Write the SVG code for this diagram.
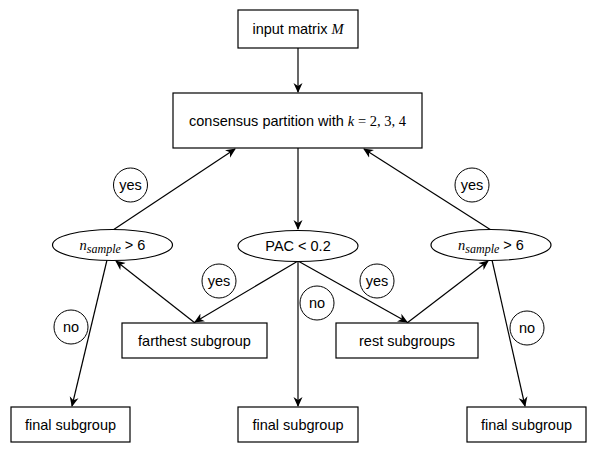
<svg xmlns="http://www.w3.org/2000/svg" width="598" height="454" viewBox="0 0 598 454">
<defs>
<marker id="arr" viewBox="0 0 10 10" refX="9" refY="5" markerWidth="10" markerHeight="10" markerUnits="userSpaceOnUse" orient="auto">
<path d="M0,0.5 L10,5 L0,9.5 L3,5 Z" fill="#000"/>
</marker>
<style>
.box{fill:#fff;stroke:#000;stroke-width:1.2}
.lbl{fill:#fff;stroke:#000;stroke-width:1}
.t{font-family:"Liberation Sans",Arial,sans-serif;font-size:14.5px;fill:#000;text-anchor:middle}
.m{font-family:"Liberation Serif","Times New Roman",serif;font-style:italic}
.s{font-family:"Liberation Serif","Times New Roman",serif}
.e{fill:none;stroke:#000;stroke-width:1.2;marker-end:url(#arr)}
</style>
</defs>
<rect width="598" height="454" fill="#fff"/>
<g id="connectors">
<line class="e" x1="298" y1="48" x2="298" y2="92"/>
<line class="e" x1="298" y1="148" x2="298" y2="229"/>
<line class="e" x1="113" y1="230" x2="235" y2="149"/>
<line class="e" x1="491" y1="230" x2="364" y2="149"/>
<line class="e" x1="298" y1="261" x2="195" y2="322"/>
<line class="e" x1="298" y1="261" x2="407" y2="322"/>
<line class="e" x1="298" y1="261" x2="298" y2="406"/>
<line class="e" x1="195" y1="323" x2="116" y2="261"/>
<line class="e" x1="407" y1="323" x2="488" y2="261"/>
<line class="e" x1="107" y1="260" x2="72" y2="406"/>
<line class="e" x1="492" y1="260" x2="525" y2="406"/>
</g>
<g id="input">
<rect class="box" x="238" y="10" width="120" height="38"/>
<text class="t" x="298" y="34">input matrix <tspan class="m">M</tspan></text>
</g>
<g id="consensus">
<rect class="box" x="173" y="93" width="249" height="55"/>
<text class="t" x="297.5" y="125.5">consensus partition with <tspan class="m">k</tspan><tspan class="s"> = 2, 3, 4</tspan></text>
</g>
<g id="nleft">
<ellipse class="box" cx="112.5" cy="245" rx="60" ry="15.5"/>
<text class="t" x="112.5" y="250"><tspan class="m">n</tspan><tspan class="m" font-size="12" dy="3">sample</tspan><tspan dy="-3"> &gt; 6</tspan></text>
</g>
<g id="pac">
<ellipse class="box" cx="298" cy="246" rx="60" ry="15.5"/>
<text class="t" x="298" y="251">PAC &lt; 0.2</text>
</g>
<g id="nright">
<ellipse class="box" cx="491" cy="245" rx="60" ry="15.5"/>
<text class="t" x="491" y="250"><tspan class="m">n</tspan><tspan class="m" font-size="12" dy="3">sample</tspan><tspan dy="-3"> &gt; 6</tspan></text>
</g>
<g id="farthest">
<rect class="box" x="122" y="323" width="145" height="35"/>
<text class="t" x="194.5" y="345.5">farthest subgroup</text>
</g>
<g id="rest">
<rect class="box" x="336" y="323" width="142" height="35"/>
<text class="t" x="407" y="345.5">rest subgroups</text>
</g>
<g id="final1">
<rect class="box" x="11" y="407" width="119" height="35"/>
<text class="t" x="70.5" y="429.5">final subgroup</text>
</g>
<g id="final2">
<rect class="box" x="238" y="407" width="120" height="35"/>
<text class="t" x="298" y="429.5">final subgroup</text>
</g>
<g id="final3">
<rect class="box" x="467" y="407" width="119" height="35"/>
<text class="t" x="526.5" y="429.5">final subgroup</text>
</g>
<g id="labels">
<circle class="lbl" cx="130.5" cy="185" r="17"/>
<text class="t" x="130.5" y="190">yes</text>
<circle class="lbl" cx="472" cy="185" r="17"/>
<text class="t" x="472" y="190">yes</text>
<circle class="lbl" cx="219" cy="281" r="17"/>
<text class="t" x="219" y="286">yes</text>
<circle class="lbl" cx="377" cy="281" r="17"/>
<text class="t" x="377" y="286">yes</text>
<circle class="lbl" cx="317" cy="303" r="17"/>
<text class="t" x="317" y="308">no</text>
<circle class="lbl" cx="71" cy="327" r="17"/>
<text class="t" x="71" y="332">no</text>
<circle class="lbl" cx="527" cy="328" r="17"/>
<text class="t" x="527" y="333">no</text>
</g>
</svg>
